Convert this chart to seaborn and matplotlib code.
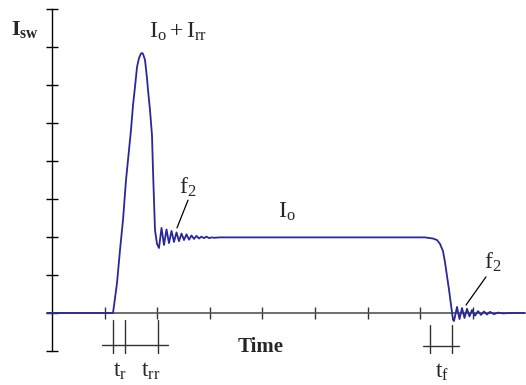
import matplotlib
matplotlib.use("Agg")
import matplotlib.pyplot as plt
import seaborn as sns
import pandas as pd

# Switch current waveform (time in arbitrary units, current in grid units)
time = [
    -1.0, 11.6, 12.36, 12.93, 13.5, 14.07, 14.64, 15.02, 15.4, 15.78, 16.16,
    16.54, 16.92, 17.11, 17.3, 17.68, 18.06, 18.25, 18.63, 19.01, 19.2, 19.39,
    19.58, 19.96, 20.34,
    20.82, 21.29, 21.77, 22.24, 22.72, 23.19, 23.67, 24.14, 24.62, 25.10,
    25.57, 26.05, 26.52, 27.0, 27.47, 27.95, 28.42, 28.9, 29.37, 29.85,
    30.32, 30.8, 31.94,
    70.91, 72.43, 73.19, 73.76, 74.33, 74.71, 75.10, 75.48, 75.86, 76.24,
    76.43, 77.0, 77.47, 77.95, 78.42, 78.9, 79.37, 79.85, 80.42, 81.0,
    81.56, 82.13, 82.7, 83.27, 84.03, 84.79, 85.74, 87.07, 90.0,
]
current = [
    0.0, 0.0, 0.79, 1.66, 2.45, 3.5, 4.29, 4.82, 5.47, 5.95, 6.47,
    6.71, 6.83, 6.84, 6.82, 6.66, 6.18, 5.87, 5.34, 4.68, 3.76, 2.97,
    2.18, 1.82, 1.71,
    2.24, 1.79, 2.20, 1.84, 2.16, 1.87, 2.12, 1.89, 2.09, 1.92,
    2.07, 1.93, 2.04, 1.95, 2.03, 1.96, 2.01, 1.97, 2.01, 1.97,
    1.99, 1.98, 1.99,
    1.99, 1.96, 1.92, 1.82, 1.63, 1.34, 0.97, 0.61, 0.21, -0.18,
    -0.21, 0.16, -0.16, 0.13, -0.13, 0.11, -0.09, 0.08, -0.07, 0.05,
    -0.05, 0.04, -0.04, 0.03, -0.03, 0.01, -0.01, 0.0, 0.0,
]

# Switching interval markers
tr_marks = [11.6, 13.88, 20.15]     # start of rise, end of t_r, end of t_rr
tf_marks = [71.86, 76.05]           # start and end of t_f

x_ticks = [10, 20, 30, 40, 50, 60, 70, 80]
y_ticks = [-1, 0, 1, 2, 3, 4, 5, 6, 7, 8]

df = pd.DataFrame({"time": time, "current": current})

sns.set_style("white")
plt.rcParams["font.family"] = ["Liberation Serif", "DejaVu Serif"]
plt.rcParams["mathtext.fontset"] = "custom"
plt.rcParams["mathtext.rm"] = "Liberation Serif"
plt.rcParams["mathtext.it"] = "Liberation Serif:italic"
plt.rcParams["mathtext.bf"] = "Liberation Serif:bold"

W, H = 526, 385
fig = plt.figure(figsize=(W / 100, H / 100), dpi=100)
fig.patch.set_facecolor("white")

# x: 5.26 px per unit, y: 38 px per unit
x0_px = 52 - 5.26
ax = fig.add_axes([x0_px / W, (H - 351) / H, (91 * 5.26) / W, 342 / H])
ax.set_facecolor("white")

sns.lineplot(data=df, x="time", y="current", ax=ax, sort=False,
             estimator=None, color="#28289c", linewidth=1.3, zorder=5)

ax.set_xlim(-1, 90)
ax.set_ylim(-1, 8)

for s in ["top", "right"]:
    ax.spines[s].set_visible(False)
ax.spines["left"].set_position(("data", 0))
ax.spines["left"].set_color("black")
ax.spines["left"].set_linewidth(1.0)
ax.spines["bottom"].set_position(("data", 0))
ax.spines["bottom"].set_color("#555555")
ax.spines["bottom"].set_linewidth(1.2)

ax.set_xticks(x_ticks)
ax.set_yticks(y_ticks)
ax.set_xticklabels([])
ax.set_yticklabels([])
ax.tick_params(axis="y", direction="inout", length=9, width=1.0,
               color="black", left=True)
ax.tick_params(axis="x", direction="inout", length=8, width=1.0,
               color="#333333", bottom=True)
ax.set_xlabel("")
ax.set_ylabel("")
ax.grid(False)

# interval markers below the time axis
mk = dict(color="#333333", linewidth=1.0, clip_on=False)
for t in tr_marks:
    ax.plot([t, t], [-0.18, -1.05], **mk)
ax.plot([9.5, 22.05], [-0.84, -0.84], **mk)
for t in tf_marks:
    ax.plot([t, t], [-0.32, -1.05], **mk)
ax.plot([70.53, 77.38], [-0.87, -0.87], **mk)

fs = 17
ax.text(-7.8, 7.45, r"$\mathbf{I_{sw}}$", fontsize=16, ha="left",
        va="center", clip_on=False)
ax.text(23.95, 7.39, r"$\mathrm{I_o + I_{rr}}$", fontsize=fs,
        ha="center", va="center")
ax.text(25.86, 3.3, r"$\mathrm{f_2}$", fontsize=fs, ha="center",
        va="center")
ax.plot([25.86, 23.76], [2.97, 2.24], color="black", linewidth=0.9)
ax.text(44.68, 2.66, r"$\mathrm{I_o}$", fontsize=fs, ha="center",
        va="center")
ax.text(83.84, 1.34, r"$\mathrm{f_2}$", fontsize=fs, ha="center",
        va="center")
ax.plot([82.51, 78.71], [0.95, 0.21], color="black", linewidth=0.9)
ax.text(39.73, -0.89, "Time", fontsize=15, fontweight="bold",
        ha="center", va="center", clip_on=False)
ax.text(12.93, -1.53, r"$\mathrm{t_r}$", fontsize=fs, ha="center",
        va="center", clip_on=False)
ax.text(18.82, -1.53, r"$\mathrm{t_{rr}}$", fontsize=fs, ha="center",
        va="center", clip_on=False)
ax.text(74.14, -1.55, r"$\mathrm{t_f}$", fontsize=fs, ha="center",
        va="center", clip_on=False)

fig.savefig("out.png", dpi=100, facecolor="white")
